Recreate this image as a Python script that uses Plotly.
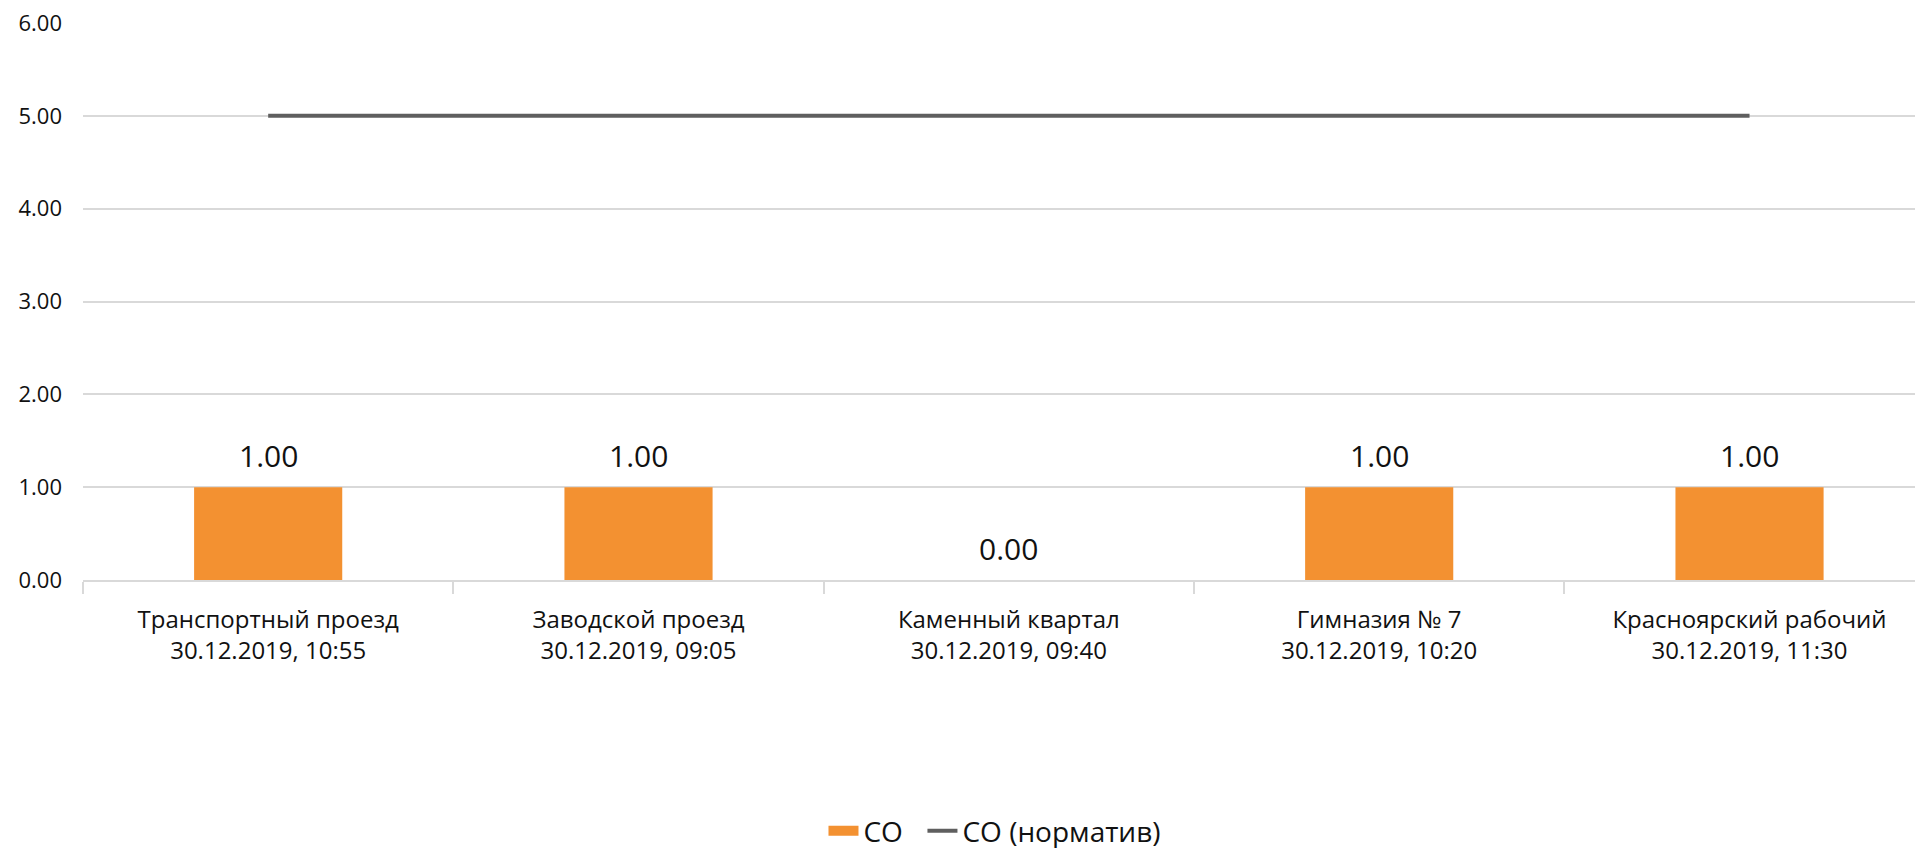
import plotly.graph_objects as go

categories = [
    "Транспортный проезд<br>30.12.2019, 10:55",
    "Заводской проезд<br>30.12.2019, 09:05",
    "Каменный квартал<br>30.12.2019, 09:40",
    "Гимназия № 7<br>30.12.2019, 10:20",
    "Красноярский рабочий<br>30.12.2019, 11:30",
]
co_values = [1.00, 1.00, 0.00, 1.00, 1.00]
co_norm = [5.00, 5.00, 5.00, 5.00, 5.00]
y_ticks = [0, 1, 2, 3, 4, 5, 6]
y_ticklabels = ["0.00", "1.00", "2.00", "3.00", "4.00", "5.00", "6.00"]

BAR_COLOR = "#F39131"
LINE_COLOR = "#5f5f5f"

fig = go.Figure()
fig.add_trace(go.Bar(
    x=categories, y=co_values, name="CO",
    marker=dict(color=BAR_COLOR, line=dict(width=0)),
    width=0.4, showlegend=False, legendgroup="co",
))
# legend-only entry giving the wide orange swatch (trailing no-break spaces widen the item gap)
fig.add_trace(go.Scatter(
    x=[None], y=[None], name="CO\u00a0\u00a0", mode="lines",
    line=dict(color=BAR_COLOR, width=20), legendgroup="co",
))
fig.add_trace(go.Scatter(
    x=categories, y=co_norm, name="CO (норматив)", mode="lines",
    line=dict(color=LINE_COLOR, width=4),
))

for c, v in zip(categories, co_values):
    fig.add_annotation(
        x=c, y=v, text=f"{v:.2f}", showarrow=False,
        yanchor="bottom", yshift=9,
        font=dict(family="Open Sans", size=30, color="#111111"),
    )

fig.update_layout(
    width=1923, height=848,
    margin=dict(l=75, r=0, t=15, b=275),
    paper_bgcolor="white", plot_bgcolor="white",
    showlegend=True,
    legend=dict(
        orientation="h", x=0.4935, xanchor="center", y=-0.45, yanchor="middle",
        font=dict(family="Open Sans", size=28, color="#111111"),
        itemwidth=30, tracegroupgap=0,
    ),
    xaxis=dict(
        range=[-0.5, 4.49], automargin=False,
        showgrid=False, showline=True, linecolor="#d9d9d9", linewidth=2,
        ticks="outside", tickson="boundaries", ticklen=12, tickcolor="#d9d9d9", tickwidth=2,
        tickfont=dict(family="Open Sans", size=24, color="#111111"),
        ticklabelstandoff=17,
    ),
    yaxis=dict(
        range=[0, 6], tickvals=y_ticks, ticktext=y_ticklabels, automargin=False,
        showgrid=True, gridcolor="#d9d9d9", gridwidth=2,
        zeroline=False, showline=False, ticks="",
        tickfont=dict(family="Open Sans", size=22, color="#111111"),
        ticklabelstandoff=20, ticklabeloverflow="allow",
    ),
    font=dict(family="Open Sans"),
)

fig.write_html("out.html")
